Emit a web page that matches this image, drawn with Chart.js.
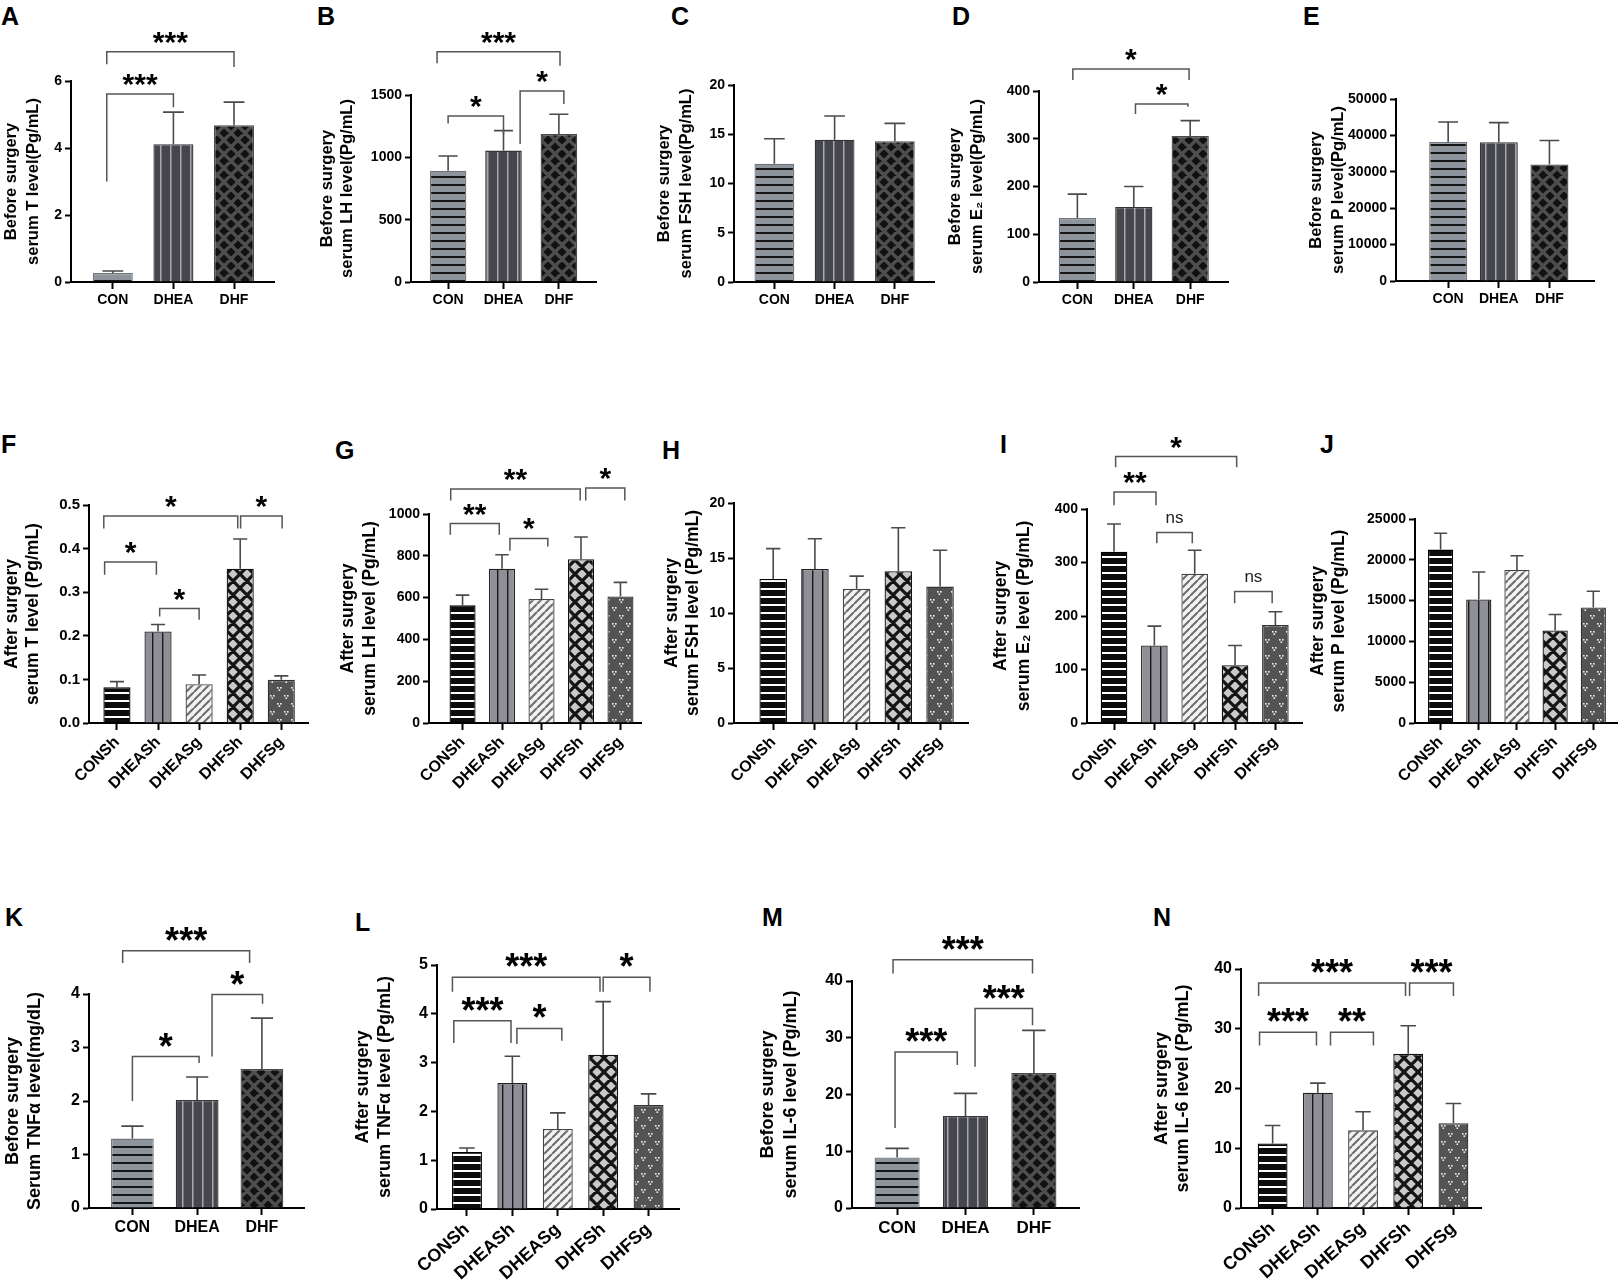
<!DOCTYPE html>
<html>
<head>
<meta charset="utf-8">
<script src="https://cdn.jsdelivr.net/npm/chart.js@4.4.1/dist/chart.umd.min.js"></script>
<style>
  body { margin: 0; background: #fff; width: 1620px; height: 1286px; position: relative; overflow: hidden;
         font-family: "Liberation Sans", Arial, sans-serif; }
  .panel { position: absolute; }
  .tag { position: absolute; font-weight: bold; font-size: 25px; line-height: 25px; color: #000; }
</style>
</head>
<body>
<script>
// groups
const groups3 = ["CON", "DHEA", "DHF"];
const groups5 = ["CONSh", "DHEASh", "DHEASg", "DHFSh", "DHFSg"];

// means, upper error (SD) and y ticks
// significance: [from, to, bracket y, left leg end, right leg end, label]
const meanA = [0.27, 4.11, 4.68];
const errA = [0.06, 0.96, 0.69];
const ticksA = [0, 2, 4, 6];
const sigA = [[-0.1, 1, 5.61, 3.0, 5.22, "***"], [-0.1, 2, 6.87, 6.5, 6.42, "***"]];

const meanB = [893, 1054, 1188];
const errB = [118, 160, 158];
const ticksB = [0, 500, 1000, 1500];
const sigB = [[0, 1, 1331, 1272, 1184, "*"], [1.3, 2.09, 1532, 1107, 1427, "*"], [-0.2, 2.02, 1847, 1754, 1735, "***"]];

const meanC = [12.0, 14.45, 14.3];
const errC = [2.55, 2.4, 1.8];
const ticksC = [0, 5, 10, 15, 20];
const sigC = [];

const meanD = [134, 157, 306];
const errD = [50, 43, 32];
const ticksD = [0, 100, 200, 300, 400];
const sigD = [[-0.08, 1.98, 446, 423, 423, "*"], [1.03, 1.96, 373, 352, 367, "*"]];

const meanE = [38200, 38100, 32000];
const errE = [5500, 5400, 6600];
const ticksE = [0, 10000, 20000, 30000, 40000, 50000];
const sigE = [];

const meanF = [0.082, 0.21, 0.089, 0.354, 0.099];
const errF = [0.013, 0.016, 0.021, 0.068, 0.009];
const ticksF = [0, 0.1, 0.2, 0.3, 0.4, 0.5];
const sigF = [[-0.3, 0.96, 0.369, 0.34, 0.34, "*"], [1.04, 2.0, 0.2625, 0.244, 0.237, "*"],
              [-0.32, 2.94, 0.475, 0.446, 0.446, "*"], [3.01, 4.02, 0.475, 0.446, 0.446, "*"]];

const meanG = [563, 738, 593, 784, 605];
const errG = [49, 67, 47, 106, 68];
const ticksG = [0, 200, 400, 600, 800, 1000];
const sigG = [[-0.31, 0.93, 954, 901, 901, "**"], [1.2, 2.16, 883, 824, 845, "*"],
              [-0.3, 2.98, 1120, 1064, 1064, "**"], [3.12, 4.11, 1124, 1064, 1064, "*"]];

const meanH = [13.1, 14.0, 12.2, 13.8, 12.4];
const errH = [2.75, 2.75, 1.15, 3.95, 3.3];
const ticksH = [0, 5, 10, 15, 20];
const sigH = [];

const meanI = [320, 145, 279, 108, 183];
const errI = [52, 36, 44, 37, 25];
const ticksI = [0, 100, 200, 300, 400];
const sigI = [[0, 1.04, 432, 407, 407, "**"], [1.06, 1.94, 356, 336, 336, "ns"],
              [0.04, 3.04, 498, 478, 478, "*"], [2.99, 3.92, 246, 224, 224, "ns"]];

const meanJ = [21250, 15150, 18750, 11350, 14150];
const errJ = [2000, 3350, 1750, 1950, 2000];
const ticksJ = [0, 5000, 10000, 15000, 20000, 25000];
const sigJ = [];

const meanK = [1.3, 2.02, 2.6];
const errK = [0.23, 0.43, 0.95];
const ticksK = [0, 1, 2, 3, 4];
const sigK = [[0, 1.03, 2.83, 2.0, 2.71, "*"], [1.23, 2.01, 3.99, 2.83, 3.82, "*"], [-0.15, 1.81, 4.81, 4.58, 4.58, "***"]];

const meanL = [1.17, 2.58, 1.64, 3.16, 2.13];
const errL = [0.08, 0.55, 0.33, 1.09, 0.23];
const ticksL = [0, 1, 2, 3, 4, 5];
const sigL = [[-0.29, 0.97, 3.86, 3.4, 3.4, "***"], [1.1, 2.09, 3.7, 3.38, 3.45, "*"],
              [-0.32, 2.93, 4.75, 4.45, 4.45, "***"], [3.0, 4.03, 4.75, 4.45, 4.45, "*"]];

const meanM = [8.9, 16.2, 23.8];
const errM = [1.6, 4.0, 7.5];
const ticksM = [0, 10, 20, 30, 40];
const sigM = [[-0.03, 0.88, 27.5, 14.1, 25.2, "***"], [1.14, 1.98, 35.15, 24.9, 32.2, "***"], [-0.06, 1.98, 43.76, 41.3, 41.3, "***"]];

const meanN = [10.8, 19.3, 13.0, 25.8, 14.2];
const errN = [3.0, 1.6, 3.1, 4.7, 3.3];
const ticksN = [0, 10, 20, 30, 40];
const sigN = [[-0.29, 0.97, 29.4, 27.2, 27.2, "***"], [1.28, 2.23, 29.4, 27.2, 27.2, "**"],
              [-0.31, 2.94, 37.66, 35.5, 35.5, "***"], [3.03, 4.0, 37.66, 35.5, 35.5, "***"]];

Chart.defaults.font.family = '"Liberation Sans", Arial, sans-serif';

// fill patterns
function tile(w, h, draw) {
  const c = document.createElement("canvas");
  c.width = w; c.height = h;
  draw(c.getContext("2d"), w, h);
  return c.getContext("2d").createPattern(c, "repeat");
}
function stripesH(bg, fg, pitch, lw) {
  return tile(4, pitch, (g, w, h) => { g.fillStyle = bg; g.fillRect(0, 0, w, h); g.fillStyle = fg; g.fillRect(0, 0, w, lw); });
}
function stripesV(bg, fg, pitch, lw) {
  return tile(pitch, 4, (g, w, h) => { g.fillStyle = bg; g.fillRect(0, 0, w, h); g.fillStyle = fg; g.fillRect(0, 0, lw, h); });
}
function lattice(bg, fg, c, lw, both) {
  return tile(c, c, (g, w, h) => {
    g.fillStyle = bg; g.fillRect(0, 0, w, h);
    g.strokeStyle = fg; g.lineWidth = lw;
    g.beginPath();
    for (let k = -1; k <= 1; k++) {
      g.moveTo(k * c, c); g.lineTo(k * c + c, 0);
      if (both) { g.moveTo(k * c, 0); g.lineTo(k * c + c, c); }
    }
    g.stroke();
  });
}
function dots(bg, fg) {
  return tile(14, 16, (g, w, h) => {
    g.fillStyle = bg; g.fillRect(0, 0, w, h);
    g.fillStyle = fg;
    [[2, 3], [9, 11]].forEach(([x, y]) => {
      g.fillRect(x, y, 1.6, 1.6); g.fillRect(x + 3, y, 1.6, 1.6); g.fillRect(x + 1.5, y + 2.4, 1.6, 1.6);
    });
  });
}

const fills3 = [stripesH("#8d949c", "#161616", 8, 2), stripesV("#46464d", "#a8a8ae", 10, 1.5), lattice("#111111", "#4e4e4e", 14, 3.4, true)];
const borders3 = ["#6f757c", "#333338", "#4a4a4a"];
const fills5 = [stripesH("#0c0c0c", "#ffffff", 8, 2), stripesV("#8f8f97", "#1a1a1a", 10, 1.4),
                lattice("#f4f4f4", "#707070", 8, 2.2, false), lattice("#c9c9c9", "#141414", 14, 3.2, true), dots("#535353", "#f0f0f0")];
const borders5 = ["#000", "#222", "#444", "#111", "#333"];

const rows = [
  { top: 0, bottom: 310, tick: 14, cat: 14, title: 16.5, star: 30, starOff: 14, rot: 0 },
  { top: 420, bottom: 800, tick: 14, cat: 16, title: 17.5, star: 30, starOff: 14, rot: 45 },
  { top: 890, bottom: 1286, tick: 16, cat: 18, title: 18, star: 36, starOff: 17, rot: 42 }
];

const panels = [
  { tag: "A", row: 0, cats: groups3, mean: meanA, err: errA, ticks: ticksA, sig: sigA, title: ["Before surgery", "serum T level(Pg/mL)"],
    axis: [71, 274, 81, 282], xr: [-0.69, 2.66], t: [10, 32], at: [1, 7] },
  { tag: "B", row: 0, cats: groups3, mean: meanB, err: errB, ticks: ticksB, sig: sigB, title: ["Before surgery", "serum LH level(Pg/mL)"],
    axis: [411, 596, 95, 282], xr: [-0.67, 2.67], t: [327, 347], at: [317, 7] },
  { tag: "C", row: 0, cats: groups3, mean: meanC, err: errC, ticks: ticksC, sig: sigC, title: ["Before surgery", "serum FSH level(Pg/mL)"],
    axis: [734, 934, 85, 282], xr: [-0.67, 2.65], t: [664, 686], at: [671, 7] },
  { tag: "D", row: 0, cats: groups3, mean: meanD, err: errD, ticks: ticksD, sig: sigD, title: ["Before surgery", "serum E\u2082 level(Pg/mL)"],
    axis: [1039, 1228, 91, 282], xr: [-0.68, 2.67], t: [955, 977], at: [952, 7] },
  { tag: "E", row: 0, cats: groups3, mean: meanE, err: errE, ticks: ticksE, sig: sigE, title: ["Before surgery", "serum P level(Pg/mL)"],
    axis: [1396, 1594, 99, 281], xr: [-1.03, 2.88], t: [1316, 1338], at: [1303, 7], bar: 0.75 },
  { tag: "F", row: 1, cats: groups5, mean: meanF, err: errF, ticks: ticksF, sig: sigF, title: ["After surgery", "serum T level (Pg/mL)"],
    axis: [89, 308, 505, 723], xr: [-0.68, 4.65], t: [12, 33], at: [1, 435], dec: 1, tickSize: 15 },
  { tag: "G", row: 1, cats: groups5, mean: meanG, err: errG, ticks: ticksG, sig: sigG, title: ["After surgery", "serum LH level (Pg/mL)"],
    axis: [429, 641, 514, 723], xr: [-0.85, 4.52], t: [348, 370], at: [335, 441] },
  { tag: "H", row: 1, cats: groups5, mean: meanH, err: errH, ticks: ticksH, sig: sigH, title: ["After surgery", "serum FSH level (Pg/mL)"],
    axis: [734, 968, 503, 723], xr: [-0.94, 4.67], t: [672, 693], at: [662, 441] },
  { tag: "I", row: 1, cats: groups5, mean: meanI, err: errI, ticks: ticksI, sig: sigI, title: ["After surgery", "serum E\u2082 level (Pg/mL)"],
    axis: [1087, 1302, 509, 723], xr: [-0.67, 4.66], t: [1001, 1024], at: [1000, 435] },
  { tag: "J", row: 1, cats: groups5, mean: meanJ, err: errJ, ticks: ticksJ, sig: sigJ, title: ["After surgery", "serum P level (Pg/mL)"],
    axis: [1415, 1617, 519, 723], xr: [-0.67, 4.62], t: [1318, 1339], at: [1320, 435] },
  { tag: "K", row: 2, cats: groups3, mean: meanK, err: errK, ticks: ticksK, sig: sigK, title: ["Before surgery", "Serum TNF\u03b1 level(mg/dL)"],
    axis: [89, 304, 994, 1208], xr: [-0.67, 2.65], t: [13, 35], at: [5, 908], rot: 0, catSize: 16 },
  { tag: "L", row: 2, cats: groups5, mean: meanL, err: errL, ticks: ticksL, sig: sigL, title: ["After surgery", "serum TNF\u03b1 level (Pg/mL)"],
    axis: [437, 679, 965, 1209], xr: [-0.66, 4.67], t: [363, 385], at: [355, 913] },
  { tag: "M", row: 2, cats: groups3, mean: meanM, err: errM, ticks: ticksM, sig: sigM, title: ["Before surgery", "serum IL-6 level (Pg/mL)"],
    axis: [852, 1079, 981, 1208], xr: [-0.66, 2.66], t: [768, 791], at: [762, 908], rot: 0, catSize: 17 },
  { tag: "N", row: 2, cats: groups5, mean: meanN, err: errN, ticks: ticksN, sig: sigN, title: ["After surgery", "serum IL-6 level (Pg/mL)"],
    axis: [1241, 1481, 969, 1208], xr: [-0.7, 4.61], t: [1162, 1183], at: [1153, 908] }
];

// error bars + significance brackets
function marks(p, row) {
  return {
    id: "marks" + p.tag,
    afterDatasetsDraw(chart) {
      const ctx = chart.ctx, xs = chart.scales.x, ys = chart.scales.y;
      ctx.save();
      ctx.strokeStyle = "#4a4a4a";
      ctx.lineWidth = 1.6;
      chart.getDatasetMeta(0).data.forEach((bar, i) => {
        const top = ys.getPixelForValue(p.mean[i]);
        const cap = ys.getPixelForValue(p.mean[i] + p.err[i]);
        const hw = bar.width * 0.26;
        ctx.beginPath();
        ctx.moveTo(bar.x, top); ctx.lineTo(bar.x, cap);
        ctx.moveTo(bar.x - hw, cap); ctx.lineTo(bar.x + hw, cap);
        ctx.stroke();
      });
      p.sig.forEach(([a, b, yl, ya, yb, label]) => {
        const x1 = xs.getPixelForValue(a), x2 = xs.getPixelForValue(b);
        const y0 = ys.getPixelForValue(yl);
        ctx.strokeStyle = "#555";
        ctx.lineWidth = 1.5;
        ctx.beginPath();
        ctx.moveTo(x1, ys.getPixelForValue(ya)); ctx.lineTo(x1, y0);
        ctx.lineTo(x2, y0); ctx.lineTo(x2, ys.getPixelForValue(yb));
        ctx.stroke();
        const ns = label === "ns";
        ctx.font = ns ? '17px "Liberation Sans", Arial, sans-serif' : 'bold ' + row.star + 'px "Liberation Sans", Arial, sans-serif';
        ctx.fillStyle = ns ? "#222" : "#000";
        ctx.textAlign = "center";
        ctx.textBaseline = "alphabetic";
        const m = ctx.measureText(label);
        const cy = y0 - row.starOff;
        ctx.fillText(label, (x1 + x2) / 2, cy + (m.actualBoundingBoxAscent - m.actualBoundingBoxDescent) / 2);
      });
      ctx.restore();
    }
  };
}

function makePanel(p) {
  const row = rows[p.row];
  const [axL, axR, topPx, botPx] = p.axis;
  const lh = p.t[1] - p.t[0];
  const cl = Math.max(0, Math.round(p.t[0] - lh / 2));
  const cr = Math.min(1620, axR + 4);
  const rot = p.rot !== undefined ? p.rot : row.rot;
  const five = p.cats.length === 5;

  const tag = document.createElement("div");
  tag.className = "tag";
  tag.textContent = p.tag;
  tag.style.left = p.at[0] + "px";
  tag.style.top = (p.at[1] - 3.5) + "px";
  document.body.appendChild(tag);

  const wrap = document.createElement("div");
  wrap.className = "panel";
  wrap.style.left = cl + "px";
  wrap.style.top = row.top + "px";
  wrap.style.width = (cr - cl) + "px";
  wrap.style.height = (row.bottom - row.top) + "px";
  const cv = document.createElement("canvas");
  wrap.appendChild(cv);
  document.body.appendChild(wrap);

  new Chart(cv, {
    type: "bar",
    data: {
      datasets: [{
        data: p.mean.map((v, i) => ({ x: i, y: v })),
        backgroundColor: five ? fills5 : fills3,
        borderColor: five ? borders5 : borders3,
        borderWidth: 1.3,
        barPercentage: p.bar || 0.66,
        categoryPercentage: 1
      }]
    },
    options: {
      responsive: true,
      maintainAspectRatio: false,
      animation: false,
      events: [],
      layout: { padding: { top: topPx - row.top, right: cr - axR, left: 0, bottom: 0 } },
      plugins: { legend: { display: false }, tooltip: { enabled: false } },
      scales: {
        x: {
          type: "linear",
          offset: false,
          min: p.xr[0],
          max: p.xr[1],
          afterBuildTicks: s => { s.ticks = p.cats.map((c, i) => ({ value: i })); },
          afterFit: s => { s.height = row.bottom - botPx; },
          ticks: {
            autoSkip: false,
            callback: v => p.cats[v],
            color: "#000",
            padding: 3,
            minRotation: rot,
            maxRotation: rot,
            font: { size: p.catSize || row.cat, weight: "bold" }
          },
          grid: { offset: false, drawOnChartArea: false, tickLength: 7, tickColor: "#000", tickWidth: 2 },
          border: { color: "#000", width: 2 }
        },
        y: {
          min: 0,
          max: p.ticks[p.ticks.length - 1],
          afterBuildTicks: s => { s.ticks = p.ticks.map(v => ({ value: v })); },
          afterFit: s => { s.width = axL - cl; },
          ticks: {
            color: "#000",
            padding: 3,
            callback: v => p.dec ? v.toFixed(p.dec) : String(v),
            font: { size: p.tickSize || row.tick, weight: "bold" }
          },
          grid: { drawOnChartArea: false, tickLength: 6, tickColor: "#000", tickWidth: 2 },
          border: { color: "#000", width: 2 },
          title: {
            display: true,
            text: p.title,
            color: "#000",
            padding: 0,
            font: { size: row.title, weight: "bold", lineHeight: lh + "px" }
          }
        }
      }
    },
    plugins: [marks(p, row)]
  });
}

panels.forEach(makePanel);
</script>
</body>
</html>
